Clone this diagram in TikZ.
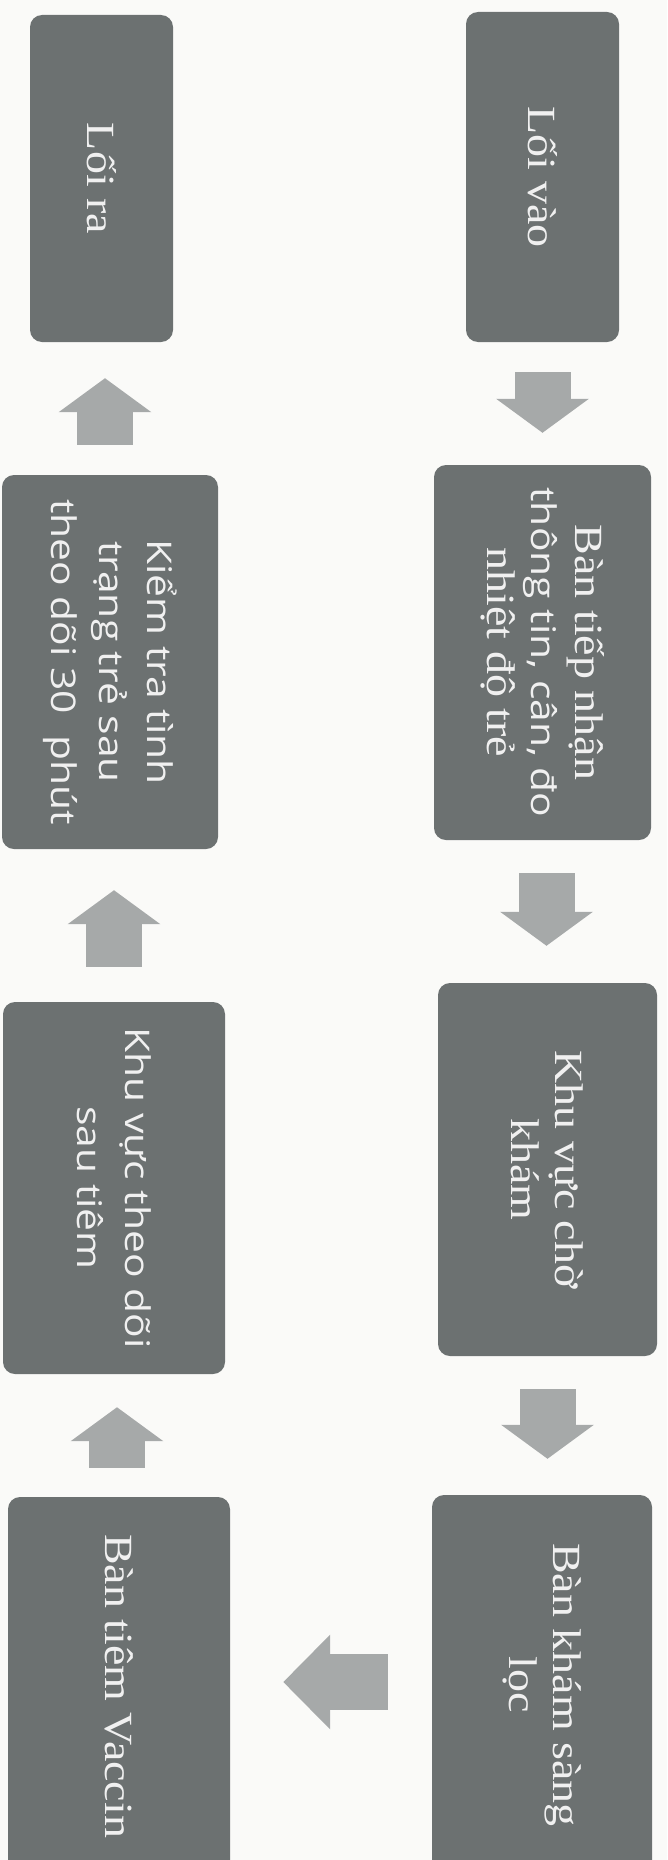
\documentclass[tikz,border=0pt]{standalone}
\usepackage{fontspec}
\setmainfont{Liberation Serif}
\newfontfamily\vserif[FakeStretch=1.15]{Liberation Serif}
\newfontfamily\vsans[FakeStretch=1.2]{Open Sans}
\usetikzlibrary{arrows.meta}
\definecolor{boxgray}{HTML}{6C7171}
\definecolor{arrgray}{HTML}{A6A9A9}
\definecolor{paper}{HTML}{FAFAF8}
\definecolor{boxtext}{HTML}{F0F0F0}
\newcommand{\sansline}{\vsans\fontsize{34}{44}\selectfont}
\tikzset{
  box/.style={rectangle, rounded corners=12pt, fill=boxgray, text=boxtext,
    rotate=-90, align=center, inner sep=0pt,
    font=\vserif\fontsize{40}{44}\selectfont},
  sansbox/.style={box, font=\vsans\fontsize{34}{48}\selectfont},
  flow/.style={draw=arrgray, line width=56pt, -{Triangle[length=34pt,width=91pt]}},
  flowh/.style={draw=arrgray, line width=56pt, -{Triangle[length=47pt,width=92pt]}}
}
\begin{document}
\begin{tikzpicture}[x=1pt,y=-1pt]
\fill[paper] (0,0) rectangle (667,1860);
\useasboundingbox (0,0) rectangle (667,1860);

% right column
\node[box, minimum width=330pt, minimum height=153pt] (in) at (542.5,177) {Lối vào};
\node[box, minimum width=375pt, minimum height=217pt] (reg) at (542.5,652.5)
  {Bàn tiếp nhận\\{\sansline thông tin, cân, đo}\\nhiệt độ trẻ};
\node[box, minimum width=373pt, minimum height=219pt] (wait) at (547.5,1169.5) {Khu vực chờ\\khám};
\node[box, minimum width=380pt, minimum height=220pt] (screen) at (542,1685) {Bàn khám sàng\\lọc};

% left column
\node[box, minimum width=378pt, minimum height=222pt] (tiem) at (119,1686) {Bàn tiêm Vaccin};
\node[sansbox, minimum width=372pt, minimum height=222pt] (obs) at (114,1188) {Khu vực theo dõi\\sau tiêm};
\node[sansbox, minimum width=374pt, minimum height=216pt] (check) at (110,662) {Kiểm tra tình\\trạng trẻ sau\\theo dõi 30~ phút};
\node[box, minimum width=327pt, minimum height=143pt] (out) at (101.5,178.5) {Lối ra};

% block arrows
\draw[flow, shorten <=30pt, shorten >=32pt] (in.east) -- (in.east |- reg.west);
\draw[flow, shorten <=33pt, shorten >=37pt] ([xshift=4pt]reg.east) -- ([xshift=4pt]reg.east |- wait.west);
\draw[flow, shorten <=33pt, shorten >=36pt] (wait.east) -- (wait.east |- screen.west);
\draw[flowh, shorten <=44pt, shorten >=53pt] ([yshift=3pt]screen.south) -- ([yshift=3pt]screen.south -| tiem.north);
\draw[flow, shorten <=29pt, shorten >=33pt] ([xshift=-2pt]tiem.west) -- ([xshift=-2pt]tiem.west |- obs.east);
\draw[flow, shorten <=35pt, shorten >=41pt] (obs.west) -- (obs.west |- check.east);
\draw[flow, shorten <=30pt, shorten >=36pt] ([xshift=-5pt]check.west) -- ([xshift=-5pt]check.west |- out.east);
\end{tikzpicture}
\end{document}
